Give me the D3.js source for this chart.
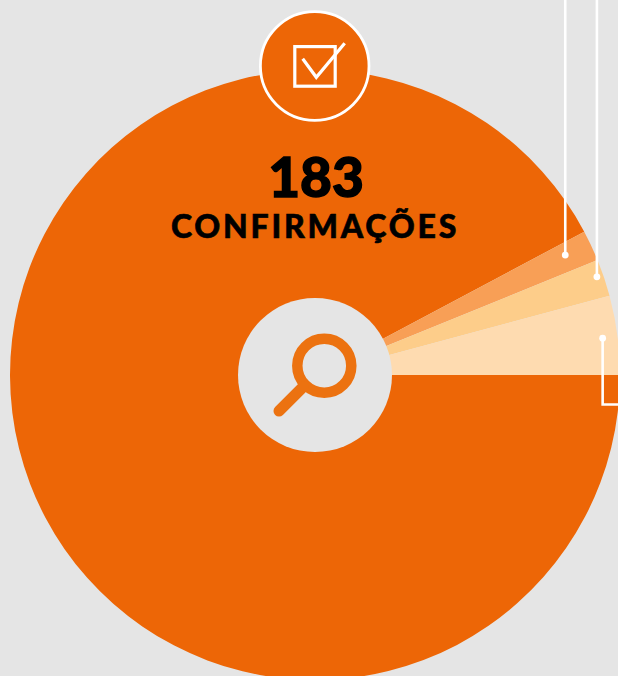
<!DOCTYPE html>
<html>
<head>
<meta charset="utf-8">
<script src="https://cdn.jsdelivr.net/npm/d3@7"></script>
<style>
  html, body { margin: 0; padding: 0; background: #e5e5e5; overflow: hidden; }
  svg { display: block; }
  text { font-family: Lato, "Open Sans", sans-serif; font-weight: 900; fill: #000; stroke: #000; text-anchor: middle; }
</style>
</head>
<body>
<svg id="chart"></svg>
<script>
// slices run clockwise starting from 3 o'clock
var categories = ['confirmacoes', 'grupo c', 'grupo b', 'grupo a'];
var values = [183, 3.25, 3.9, 8.3];
var colors = ['#ed6606', '#f89f56', '#fdcd8a', '#fedbb0'];

var width = 618, height = 676;
var cx = 315, cy = 375, outer = 305, inner = 77;

var svg = d3.select('#chart').attr('width', width).attr('height', height);
var g = svg.append('g').attr('transform', 'translate(' + cx + ',' + cy + ')');

var pie = d3.pie().sort(null).startAngle(Math.PI / 2).endAngle(Math.PI * 2.5);
var arc = d3.arc().innerRadius(inner - 2).outerRadius(outer);

g.selectAll('path.slice').data(pie(values)).enter().append('path')
  .attr('class', 'slice')
  .attr('d', arc)
  .attr('fill', function(d, i) { return colors[i]; })
  .attr('data-name', function(d, i) { return categories[i]; });

// white dot inside a slice, degrees above 3 o'clock and distance from centre
function anchor(deg, r) {
  var a = deg * Math.PI / 180;
  return [cx + r * Math.cos(a), cy - r * Math.sin(a)];
}

var p1 = anchor(25.6, 277.5), p2 = anchor(19.2, 298.5), p3 = anchor(7.3, 290);
var leaders = [
  [[p1[0], 0], p1],
  [[p2[0], 0], p2],
  [p3, [p3[0], 404.5], [width, 404.5]]
];
svg.selectAll('path.leader').data(leaders).enter().append('path')
  .attr('class', 'leader')
  .attr('d', d3.line())
  .attr('fill', 'none')
  .attr('stroke', '#fff')
  .attr('stroke-width', 2.6);
svg.selectAll('circle.dot').data([p1, p2, p3]).enter().append('circle')
  .attr('class', 'dot')
  .attr('cx', function(d) { return d[0]; })
  .attr('cy', function(d) { return d[1]; })
  .attr('r', 3.4)
  .attr('fill', '#fff');

// centre hole with the magnifier
svg.append('circle').attr('cx', cx).attr('cy', cy).attr('r', inner).attr('fill', '#e5e5e5');
svg.append('circle').attr('cx', 324.3).attr('cy', 365.7).attr('r', 27)
  .attr('fill', 'none').attr('stroke', '#ec7210').attr('stroke-width', 10.5);
svg.append('line').attr('x1', 303).attr('y1', 387).attr('x2', 279).attr('y2', 411)
  .attr('stroke', '#ec7210').attr('stroke-width', 11).attr('stroke-linecap', 'round');

// badge on top with the check box
svg.append('circle').attr('cx', 314.7).attr('cy', 66).attr('r', 54.3)
  .attr('fill', '#ed6606').attr('stroke', '#fff').attr('stroke-width', 2.8);
svg.append('rect').attr('x', 294.8).attr('y', 46.6).attr('width', 40.4).attr('height', 39.6)
  .attr('fill', 'none').attr('stroke', '#fff').attr('stroke-width', 3.2);
svg.append('path').attr('d', 'M302.7,58.7L316.3,77.3L344.7,43.3')
  .attr('fill', 'none').attr('stroke', '#fff').attr('stroke-width', 3.2);

svg.append('text').attr('x', 316).attr('y', 197).attr('font-size', 55).attr('stroke-width', 1.4).text('183');
svg.append('text').attr('x', 315).attr('y', 238).attr('font-size', 32).attr('stroke-width', 0.6).attr('letter-spacing', 2.8).text('CONFIRMAÇÕES');
</script>
</body>
</html>
